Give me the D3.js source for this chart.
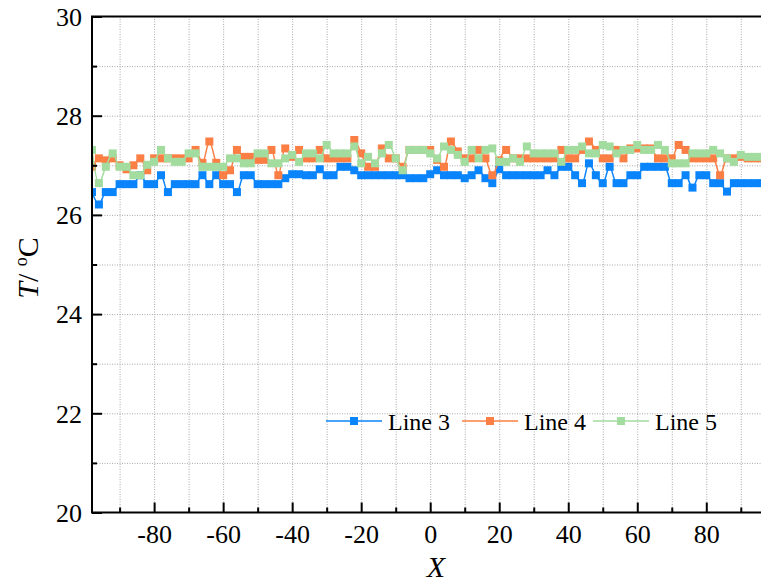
<!DOCTYPE html>
<html>
<head>
<meta charset="utf-8">
<script src="https://cdn.jsdelivr.net/npm/d3@7"></script>
<style>
  body { margin: 0; background: #fff; }
  svg { display: block; }
  text { font-family: "Liberation Serif", "Times New Roman", serif; fill: #000; }
  .grid line { stroke: #a8a8a8; stroke-dasharray: 1,1.5; stroke-width: 1; }
  .grid path { display: none; }
</style>
</head>
<body>
<div id="chart"></div>
<script>
// x positions: -98 .. 96 step 2
const xValues = d3.range(-98, 97, 2);

const line3 = [
  26.46, 26.21, 26.46, 26.46, 26.62, 26.62, 26.62, 26.80, 26.62, 26.62,
  26.80, 26.46, 26.62, 26.62, 26.62, 26.62, 26.80, 26.62, 26.80, 26.62,
  26.62, 26.46, 26.80, 26.80, 26.62, 26.62, 26.62, 26.62, 26.74, 26.82,
  26.82, 26.80, 26.80, 26.92, 26.80, 26.80, 26.97, 26.97, 26.90, 26.80,
  26.80, 26.80, 26.80, 26.80, 26.80, 26.80, 26.74, 26.74, 26.74, 26.82,
  26.90, 26.80, 26.80, 26.80, 26.74, 26.80, 26.90, 26.74, 26.64, 26.92,
  26.80, 26.80, 26.80, 26.80, 26.80, 26.80, 26.90, 26.80, 26.97, 26.97,
  26.80, 26.64, 27.04, 26.80, 26.64, 26.97, 26.64, 26.64, 26.80, 26.80,
  26.97, 26.97, 26.97, 26.97, 26.64, 26.64, 26.80, 26.55, 26.80, 26.80,
  26.64, 26.64, 26.47, 26.64, 26.64, 26.64, 26.64, 26.64
];

const line4 = [
  26.97, 27.14, 27.10, 27.14, 27.00, 26.92, 27.00, 27.14, 26.90, 27.14,
  27.14, 27.14, 27.14, 27.14, 27.14, 27.31, 27.05, 27.48, 27.05, 26.80,
  26.90, 27.31, 27.17, 27.17, 27.11, 27.11, 27.31, 26.80, 27.34, 27.17,
  27.31, 27.14, 27.14, 27.31, 27.14, 27.14, 27.14, 27.14, 27.51, 27.24,
  26.97, 26.97, 27.34, 27.14, 27.14, 26.97, 27.31, 27.31, 27.31, 27.31,
  27.11, 26.97, 27.48, 27.28, 27.14, 27.14, 27.31, 27.14, 26.80, 27.10,
  27.31, 27.14, 27.14, 27.14, 27.14, 27.14, 27.14, 27.14, 27.31, 27.14,
  27.14, 27.31, 27.48, 27.31, 27.14, 27.14, 27.31, 27.14, 27.34, 27.34,
  27.34, 27.34, 27.14, 27.14, 27.14, 27.41, 27.31, 27.14, 27.14, 27.14,
  27.14, 26.80, 27.14, 27.14, 27.17, 27.14, 27.14, 27.14
];

const line5 = [
  27.31, 26.64, 26.97, 27.24, 26.97, 26.97, 26.80, 26.80, 27.01, 27.07,
  27.31, 27.14, 27.07, 27.07, 27.24, 27.24, 26.97, 26.97, 26.97, 26.97,
  27.14, 27.14, 27.04, 27.04, 27.24, 27.24, 27.04, 27.04, 27.14, 27.21,
  27.07, 27.24, 27.24, 27.14, 27.41, 27.24, 27.24, 27.24, 27.38, 27.04,
  27.17, 27.04, 27.24, 27.41, 27.14, 26.90, 27.31, 27.31, 27.31, 27.24,
  27.14, 27.38, 27.31, 27.21, 27.07, 27.31, 27.14, 27.31, 27.34, 27.07,
  27.07, 27.14, 27.07, 27.38, 27.24, 27.24, 27.24, 27.24, 27.07, 27.31,
  27.31, 27.38, 27.24, 27.24, 27.41, 27.38, 27.24, 27.31, 27.31, 27.41,
  27.31, 27.31, 27.41, 27.31, 27.04, 27.04, 27.04, 27.24, 27.24, 27.24,
  27.31, 27.24, 27.14, 27.07, 27.21, 27.17, 27.17, 27.17
];

const seriesNames = ['Line 3', 'Line 4', 'Line 5'];
const seriesColors = ['#0a84fa', '#fb7f45', '#a2dc9e'];
const seriesValues = [line3, line4, line5];

const xMajor = [-80, -60, -40, -20, 0, 20, 40, 60, 80];
const xMinor = [-90, -70, -50, -30, -10, 10, 30, 50, 70, 90];
const yMajor = [20, 22, 24, 26, 28, 30];
const yMinor = [21, 23, 25, 27, 29];

const width = 761, height = 583;
const margin = { left: 92, top: 16.5, right: -1, bottom: 70.5 };
const plotW = width - margin.left - margin.right;
const plotH = height - margin.top - margin.bottom;
const serif = '"Liberation Serif", "Times New Roman", serif';

const svg = d3.select('#chart').append('svg')
  .attr('width', width)
  .attr('height', height);

const x = d3.scaleLinear().domain([-98, 96]).range([0, plotW - 0.5]);
const y = d3.scaleLinear().domain([20, 30]).range([plotH, 0]);

const g = svg.append('g').attr('transform', `translate(${margin.left},${margin.top})`);

// dotted grid at every major and minor step
g.append('g').attr('class', 'grid')
  .attr('transform', `translate(0,${plotH})`)
  .call(d3.axisBottom(x).tickValues(xMajor.concat(xMinor)).tickSize(-plotH).tickFormat(''));
g.append('g').attr('class', 'grid')
  .call(d3.axisLeft(y).tickValues(yMajor.concat(yMinor).filter(v => v > 20 && v < 30)).tickSize(-plotW).tickFormat(''));

svg.append('defs').append('clipPath').attr('id', 'clip')
  .append('rect').attr('width', plotW).attr('height', plotH);

const lineGen = d3.line()
  .x((d, i) => x(xValues[i]))
  .y(d => y(d))
  .curve(d3.curveCatmullRom.alpha(0.5));

const data = g.append('g').attr('clip-path', 'url(#clip)');
const markerSize = 8;

seriesValues.forEach((vals, k) => {
  const sg = data.append('g');
  sg.append('path')
    .datum(vals)
    .attr('fill', 'none')
    .attr('stroke', seriesColors[k])
    .attr('stroke-width', 1.5)
    .attr('d', lineGen);
  sg.selectAll('rect')
    .data(vals)
    .enter().append('rect')
    .attr('x', (d, i) => x(xValues[i]) - markerSize / 2)
    .attr('y', d => y(d) - markerSize / 2)
    .attr('width', markerSize)
    .attr('height', markerSize)
    .attr('fill', seriesColors[k]);
});

// axes, ticks pointing inward
function styleAxis(sel) {
  sel.attr('font-family', serif);
  sel.select('.domain').remove();
  sel.selectAll('.tick line').attr('stroke', '#000').attr('stroke-width', 2);
  sel.selectAll('text')
    .style('font-family', serif)
    .style('font-size', '26px')
    .attr('fill', '#000');
}
const plainFormat = d => String(d); // hyphen minus like the original

const xAxis = g.append('g')
  .attr('transform', `translate(0,${plotH})`)
  .call(d3.axisBottom(x).tickValues(xMajor).tickSize(-10).tickFormat(plainFormat));
styleAxis(xAxis);
xAxis.selectAll('text').attr('y', 30).attr('dy', null);

g.append('g')
  .attr('transform', `translate(0,${plotH})`)
  .call(d3.axisBottom(x).tickValues(xMinor).tickSize(-5).tickFormat(''))
  .call(styleAxis);

const yAxis = g.append('g')
  .call(d3.axisLeft(y).tickValues(yMajor).tickSize(-10).tickFormat(plainFormat));
styleAxis(yAxis);
yAxis.selectAll('text').attr('x', -10).attr('dy', '0.34em');

g.append('g')
  .call(d3.axisLeft(y).tickValues(yMinor).tickSize(-5).tickFormat(''))
  .call(styleAxis);

// frame
g.append('line').attr('x1', 0).attr('x2', 0).attr('y1', 0).attr('y2', plotH)
  .attr('stroke', '#000').attr('stroke-width', 2);
g.append('line').attr('x1', -1).attr('x2', plotW).attr('y1', plotH).attr('y2', plotH)
  .attr('stroke', '#000').attr('stroke-width', 2);
g.append('line').attr('x1', -1).attr('x2', plotW).attr('y1', 0).attr('y2', 0)
  .attr('stroke', '#000').attr('stroke-width', 2);

// axis titles
svg.append('text')
  .attr('x', 436).attr('y', 577)
  .attr('text-anchor', 'middle')
  .style('font-size', '30px')
  .style('font-style', 'italic')
  .text('X');

const yTitle = svg.append('text')
  .attr('transform', 'translate(38,268) rotate(-90)')
  .attr('text-anchor', 'middle')
  .style('font-size', '30px');
yTitle.append('tspan').style('font-style', 'italic').text('T');
yTitle.append('tspan').text('/ ');
yTitle.append('tspan').attr('dy', -11).style('font-size', '18px').text('o');
yTitle.append('tspan').attr('dy', 11).text('C');

// legend
const legendX = [326, 462, 593];
const legendY = 421;
seriesNames.forEach((name, k) => {
  const lg = svg.append('g').attr('transform', `translate(${legendX[k]},${legendY})`);
  lg.append('line').attr('x1', 0).attr('x2', 56).attr('y1', 0).attr('y2', 0)
    .attr('stroke', seriesColors[k]).attr('stroke-width', 1.5);
  lg.append('rect').attr('x', 28 - markerSize / 2).attr('y', -markerSize / 2)
    .attr('width', markerSize).attr('height', markerSize).attr('fill', seriesColors[k]);
  lg.append('text').attr('x', 62).attr('y', 9)
    .style('font-size', '24px').text(name);
});
</script>
</body>
</html>
